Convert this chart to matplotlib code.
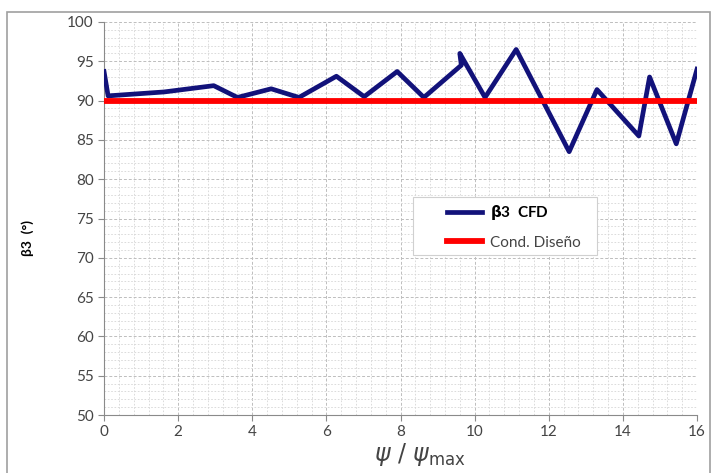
import matplotlib.pyplot as plt
from matplotlib.patches import Rectangle
from matplotlib.ticker import MultipleLocator

plt.rcParams['font.family'] = ['Lato', 'DejaVu Sans']

# beta3 from CFD vs psi/psi_max
psi = [0.0, 0.11, 1.62, 2.96, 3.60, 4.51, 5.26, 6.27, 7.02, 7.91, 8.63,
       9.64, 9.60, 10.28, 11.12, 12.55, 13.30, 14.43, 14.72, 15.44, 16.0]
beta3 = [93.7, 90.6, 91.1, 91.9, 90.4, 91.5, 90.4, 93.1, 90.5, 93.7, 90.4,
         94.5, 96.0, 90.4, 96.5, 83.5, 91.4, 85.5, 93.0, 84.5, 94.0]

design_x = [0, 16]
design_y = [90, 90]

fig = plt.figure(figsize=(7.13, 4.73), dpi=100)
fig.patches.append(Rectangle((7 / 713, -0.1), 703 / 713, 1.1 - 12 / 473,
                             transform=fig.transFigure, fill=False,
                             edgecolor='#a0a0a0', linewidth=1.2))
ax = fig.add_axes([0.1459, 0.1226, 0.8317, 0.8309])

ax.plot(psi, beta3, color='#12127a', lw=3.4, solid_joinstyle='round',
        label=r'$\mathbf{\beta}$3  CFD', zorder=3)
ax.plot(design_x, design_y, color='#ff0000', lw=4.2, label='Cond. Diseño',
        zorder=4)

ax.set_xlim(0, 16)
ax.set_ylim(50, 100)
ax.xaxis.set_major_locator(MultipleLocator(2))
ax.xaxis.set_minor_locator(MultipleLocator(0.4))
ax.yaxis.set_major_locator(MultipleLocator(5))
ax.yaxis.set_minor_locator(MultipleLocator(1))

ax.grid(which='major', color='#bdbdbd', ls=(0, (3, 2)), lw=0.7)
ax.grid(which='minor', color='#d6d6d6', ls=(0, (2, 2)), lw=0.6)
ax.set_axisbelow(True)

for s in ['top', 'right']:
    ax.spines[s].set_visible(False)
for s in ['left', 'bottom']:
    ax.spines[s].set_color('#8a8a8a')
ax.tick_params(which='major', direction='out', length=4, color='#8a8a8a',
               labelsize=11, labelcolor='#444444')
ax.tick_params(which='minor', length=0)

ax.set_xlabel(r'$\psi\ /\ \psi_{\rm max}$', fontsize=17, color='#444444')
ax.xaxis.set_label_coords(0.533, -0.065)
ax.set_ylabel('β3  (°)', fontsize=10, fontweight='bold')
ax.yaxis.set_label_coords(-0.118, 0.45)

# legend box drawn by hand for the wide left padding of the original
ax.add_patch(Rectangle((0.521, 0.407), 0.31, 0.148, transform=ax.transAxes,
                       facecolor='white', edgecolor='#d0d0d0', lw=0.8,
                       zorder=5))
leg = ax.legend(loc='center left', bbox_to_anchor=(0.578, 0.48), fontsize=11,
                frameon=False, borderpad=0, borderaxespad=0,
                handlelength=2.3, labelspacing=0.9, handletextpad=0.5)
leg.set_zorder(6)
texts = leg.get_texts()
texts[0].set_fontweight('bold')
texts[1].set_color('#444444')

fig.savefig('out.png', dpi=100)
